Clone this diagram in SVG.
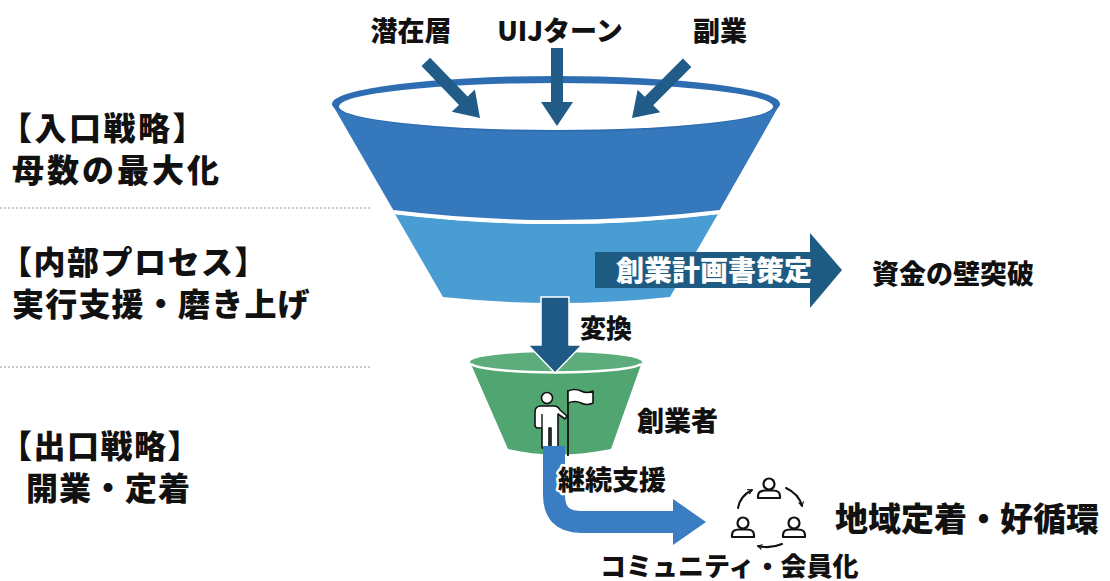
<svg xmlns="http://www.w3.org/2000/svg" width="1110" height="581" viewBox="0 0 1110 581">
  <defs>
    <style>
      text { font-family: "Noto Sans CJK JP", "Noto Sans", sans-serif; font-weight: 900; fill: #111; }
      .side { font-size: 32px; }
      .top { font-size: 27px; text-anchor: middle; }
      .mid { font-size: 27px; }
      .sep { stroke: #9a9a9a; stroke-width: 1.2; stroke-dasharray: 2 2; fill: none; }
      .in-arrow { fill: #215c89; }
      .icon { fill: #fff; stroke: #111; stroke-width: 1.6; stroke-linejoin: round; }
      .cyc { fill: none; stroke: #111; stroke-width: 2; stroke-linecap: round; }
      .member { fill: #fff; stroke: #111; stroke-width: 2.2; stroke-linejoin: round; }
      .halo { paint-order: stroke; stroke: #fff; stroke-width: 5px; stroke-linejoin: round; }
    </style>
    <!-- downward arrow, tip at the origin -->
    <path id="down-arrow" d="M -6 -78 H 6 V -24 H 16 L 0 0 L -16 -24 H -6 Z"/>
    <marker id="chev" viewBox="0 0 8 8" refX="6" refY="4" markerWidth="6" markerHeight="6" orient="auto" markerUnits="userSpaceOnUse">
      <path d="M 1 1 L 6 4 L 1 7" fill="none" stroke="#111" stroke-width="1.6" stroke-linecap="round" stroke-linejoin="round"/>
    </marker>
    <g id="member">
      <circle cx="0" cy="0" r="5.5"/>
      <path d="M -11 14 V 12 Q -11 6.5 -4 6.5 H 4 Q 11 6.5 11 12 V 14 Z"/>
    </g>
  </defs>

  <rect width="1110" height="581" fill="#ffffff"/>

  <!-- stage separators -->
  <g id="separators">
    <line class="sep" x1="0" y1="208" x2="372" y2="208"/>
    <line class="sep" x1="0" y1="367" x2="372" y2="367"/>
  </g>

  <!-- stage labels -->
  <g id="label-entry">
    <text class="side" x="0" y="140" letter-spacing="2.5">【入口戦略】</text>
    <text class="side" x="12" y="182" letter-spacing="3">母数の最大化</text>
  </g>
  <g id="label-internal">
    <text class="side" x="0" y="274" letter-spacing="1.5">【内部プロセス】</text>
    <text class="side" x="12" y="316" letter-spacing="1.2">実行支援・磨き上げ</text>
  </g>
  <g id="label-exit">
    <text class="side" x="0" y="458" letter-spacing="1.5">【出口戦略】</text>
    <text class="side" x="26" y="500" letter-spacing="1">開業・定着</text>
  </g>

  <!-- upper funnel: entry and internal stages -->
  <g id="funnel-top">
    <path d="M 332 104 L 395 213 Q 556 233 718 213 L 780 104 Z" fill="#3678bc"/>
    <ellipse cx="556" cy="104" rx="224" ry="28" fill="#2e6db1"/>
    <ellipse cx="556" cy="106.5" rx="217" ry="23.5" fill="#ffffff"/>
    <path d="M 395 214 Q 556 234 718 214 L 670 297 Q 556 309 443 297 Z" fill="#4a9dd2"/>
    <path d="M 393 212 Q 556 232 720 212" fill="none" stroke="#ffffff" stroke-width="4"/>
  </g>

  <!-- lower funnel: founders -->
  <g id="funnel-bottom">
    <path d="M 470 362 A 86 10 0 0 0 642 362 L 611 449 Q 556 460 508 449 Z" fill="#51a570"/>
    <ellipse cx="556" cy="362" rx="86" ry="10" fill="#5cad7b"/>
    <path d="M 471 364 A 86 10 0 0 0 641 364" fill="none" stroke="#ffffff" stroke-width="2.5"/>
    <!-- founder with flag -->
    <g id="founder-icon">
      <line x1="568" y1="390" x2="568" y2="456" stroke="#111" stroke-width="1.8"/>
      <path class="icon" d="M 568 391 Q 575 388 581 391 Q 587 394 593 391 V 403 Q 587 406 581 403 Q 575 400 568 403 Z"/>
      <circle class="icon" cx="547" cy="398" r="5.5"/>
      <path class="icon" d="M 541 406 H 554 Q 558 406 560 410 L 567 416 L 565 419 L 558 414 V 448 H 551 V 428 H 549 V 448 H 542 V 428 H 538 Q 535 428 535 425 V 412 Q 535 406 541 406 Z"/>
      <path d="M 542 414 V 428" stroke="#111" stroke-width="1.4" fill="none"/>
    </g>
  </g>

  <!-- connectors -->
  <g id="connectors">
    <use href="#down-arrow" class="in-arrow" transform="translate(480 118) rotate(-44)"/>
    <use href="#down-arrow" class="in-arrow" transform="translate(557 126)"/>
    <use href="#down-arrow" class="in-arrow" transform="translate(632 118) rotate(45)"/>

    <!-- plan drafting arrow -->
    <path d="M 595 252 H 810 V 233 L 842 270 L 810 308 V 288 H 595 Z" fill="#1e5b83"/>

    <!-- conversion arrow -->
    <path d="M 541 297 H 569 V 345 H 582 L 555 373 L 528 345 H 541 Z" fill="#1f5a86" stroke="#ffffff" stroke-width="1.5"/>

    <!-- continued support arrow -->
    <path d="M 554 446 V 495 Q 554 522 581 522 H 676" fill="none" stroke="#3a7dc2" stroke-width="22"/>
    <path d="M 673 499 L 706 522 L 673 545 Z" fill="#3a7dc2"/>
  </g>

  <!-- inflow labels -->
  <g id="inflows">
    <text class="top" x="411" y="41">潜在層</text>
    <text class="top" x="560" y="41">UIJターン</text>
    <text class="top" x="720" y="41">副業</text>
  </g>

  <g id="plan">
    <text x="616" y="281" font-size="28" style="fill:#ffffff">創業計画書策定</text>
  </g>
  <g id="funding">
    <text class="mid" x="872" y="284">資金の壁突破</text>
  </g>
  <g id="conversion">
    <text x="580" y="338" font-size="26">変換</text>
  </g>
  <g id="founders">
    <text class="mid" x="637" y="431">創業者</text>
  </g>
  <g id="support">
    <text class="mid halo" x="558" y="490">継続支援</text>
  </g>

  <!-- community cycle -->
  <g id="community">
    <g class="member">
      <use href="#member" transform="translate(769 484)"/>
      <use href="#member" transform="translate(743 523)"/>
      <use href="#member" transform="translate(794 523)"/>
    </g>
    <path class="cyc" d="M 738 508 Q 740 496 752 490" marker-end="url(#chev)"/>
    <path class="cyc" d="M 786 488 Q 799 494 802 506" marker-end="url(#chev)"/>
    <path class="cyc" d="M 782 544 Q 770 549 758 546" marker-end="url(#chev)"/>
    <text x="600" y="576" font-size="26">コミュニティ・会員化</text>
  </g>
  <g id="settlement">
    <text x="835" y="531" font-size="33">地域定着・好循環</text>
  </g>
</svg>
